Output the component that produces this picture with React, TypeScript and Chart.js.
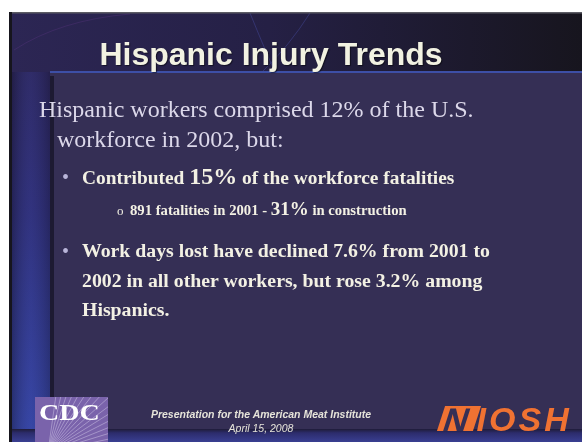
import React, { useEffect, useRef } from "react";
import { Chart, registerables } from "chart.js";

Chart.register(...registerables);

const W = 582;
const H = 442;

const titleText = "Hispanic Injury Trends";
const introLines = ["Hispanic workers comprised 12% of the U.S.", "workforce in 2002, but:"];
const bullet1Parts = ["Contributed ", "15%", " of the workforce fatalities"];
const subBulletParts = ["891 fatalities in 2001 - ", "31%", " in construction"];
const bullet2Lines = [
  "Work days lost have declined 7.6% from 2001 to",
  "2002 in all other workers, but rose 3.2% among",
  "Hispanics.",
];
const footerLines = ["Presentation for the American Meat Institute", "April 15, 2008"];
const logoLeft = "CDC";
const logoRight = ["N", "IOSH"];

const SERIF = "'Liberation Serif', 'Times New Roman', serif";
const SANS = "'Liberation Sans', Arial, sans-serif";

const backgroundPlugin = {
  id: "slideBackground",
  beforeDraw(chart: any) {
    const ctx: CanvasRenderingContext2D = chart.ctx;
    ctx.save();
    ctx.fillStyle = "#ffffff";
    ctx.fillRect(0, 0, W, H);
    // slide base
    ctx.fillStyle = "#352f55";
    ctx.fillRect(9, 12, W - 9, H - 12);
    // header
    const hg = ctx.createLinearGradient(12, 0, W, 0);
    hg.addColorStop(0, "#2c2654");
    hg.addColorStop(0.45, "#252045");
    hg.addColorStop(1, "#17151e");
    ctx.fillStyle = hg;
    ctx.fillRect(12, 13, W - 12, 59);
    // faint arcs in header
    ctx.strokeStyle = "rgba(80,90,190,0.35)";
    ctx.lineWidth = 1;
    ctx.beginPath();
    ctx.moveTo(250, 13);
    ctx.quadraticCurveTo(265, 50, 275, 72);
    ctx.moveTo(310, 13);
    ctx.quadraticCurveTo(290, 45, 262, 72);
    ctx.stroke();
    ctx.strokeStyle = "rgba(110,60,150,0.25)";
    ctx.beginPath();
    ctx.moveTo(14, 50);
    ctx.quadraticCurveTo(60, 20, 130, 14);
    ctx.stroke();
    // left strip
    const lg = ctx.createLinearGradient(0, 72, 0, 430);
    lg.addColorStop(0, "#2a2458");
    lg.addColorStop(0.4, "#2c2c72");
    lg.addColorStop(1, "#3343a0");
    ctx.fillStyle = lg;
    ctx.fillRect(12, 72, 38, 358);
    const lg2 = ctx.createLinearGradient(12, 0, 50, 0);
    lg2.addColorStop(0, "rgba(20,18,40,0.35)");
    lg2.addColorStop(0.5, "rgba(80,90,200,0.15)");
    lg2.addColorStop(1, "rgba(20,18,40,0.25)");
    ctx.fillStyle = lg2;
    ctx.fillRect(12, 72, 38, 358);
    // outer top / left border
    ctx.fillStyle = "#5c5c64";
    ctx.fillRect(9, 12, W - 9, 1.5);
    ctx.fillStyle = "#16151d";
    ctx.fillRect(9, 12, 3, H - 12);
    // blue header line
    ctx.fillStyle = "#3d4fa6";
    ctx.fillRect(50, 71, W - 50, 2);
    // panel border
    ctx.fillStyle = "#1d1a32";
    ctx.fillRect(50, 76, 4, 354);
    // bottom strip
    const bg = ctx.createLinearGradient(0, 429, 0, 442);
    bg.addColorStop(0, "#1f1c38");
    bg.addColorStop(0.3, "#2c2c6c");
    bg.addColorStop(1, "#3a3f92");
    ctx.fillStyle = bg;
    ctx.fillRect(12, 429, W - 12, 13);
    // CDC logo box
    ctx.fillStyle = "#7a63ab";
    ctx.fillRect(35, 397, 73, 45);
    ctx.save();
    ctx.beginPath();
    ctx.rect(35, 397, 73, 45);
    ctx.clip();
    ctx.strokeStyle = "rgba(235,230,250,0.55)";
    ctx.lineWidth = 0.7;
    const ox = 48;
    const oy = 452;
    for (let a = -82; a <= -4; a += 5) {
      const r = (a * Math.PI) / 180;
      ctx.beginPath();
      ctx.moveTo(ox, oy);
      ctx.lineTo(ox + Math.cos(r) * 120, oy + Math.sin(r) * 120);
      ctx.stroke();
    }
    ctx.restore();
    ctx.restore();
  },
};

export default function App() {
  const canvasRef = useRef<HTMLCanvasElement | null>(null);

  useEffect(() => {
    if (!canvasRef.current) return;
    const chart = new Chart(canvasRef.current, {
      type: "bar",
      data: { labels: [], datasets: [] },
      options: {
        animation: false,
        responsive: false,
        devicePixelRatio: 1,
        events: [],
        plugins: { legend: { display: false }, tooltip: { enabled: false }, title: { display: false } },
        scales: { x: { display: false }, y: { display: false } },
      },
      plugins: [backgroundPlugin],
    });
    return () => chart.destroy();
  }, []);

  const abs = (extra: React.CSSProperties): React.CSSProperties => ({
    position: "absolute",
    whiteSpace: "nowrap",
    lineHeight: 1,
    margin: 0,
    ...extra,
  });

  const bodyColor = "#f3f1e4";
  const introColor = "#dcd8ea";
  const dotColor = "#b9b5d9";

  return (
    <div style={{ position: "absolute", left: 0, top: 0, width: W, height: H, overflow: "hidden", background: "#fff" }}>
      <canvas ref={canvasRef} width={W} height={H} style={{ position: "absolute", left: 0, top: 0, width: W, height: H }} />
      {/* title */}
      <div
        style={abs({
          left: 0,
          width: 542,
          textAlign: "center",
          top: 65 - 0.8465 * 32,
          fontFamily: SANS,
          fontWeight: "bold",
          fontSize: 32,
          color: "#f2f2e2",
          textShadow: "1px 1px 1px rgba(0,0,0,0.5)",
        })}
      >
        {titleText}
      </div>
      {/* intro */}
      {introLines.map((t, i) => (
        <div
          key={i}
          style={abs({
            left: i === 0 ? 39 : 57,
            top: 117 - 0.8375 * 24 + i * 30,
            fontFamily: SERIF,
            fontSize: 24,
            color: introColor,
          })}
        >
          {t}
        </div>
      ))}
      {/* bullet 1 */}
      <div style={abs({ left: 62, top: 184 - 0.8375 * 20, fontFamily: SERIF, fontSize: 20, color: dotColor })}>•</div>
      <div style={abs({ left: 82, top: 184 - 0.8375 * 19.4, fontFamily: SERIF, fontSize: 19.4, fontWeight: "bold", color: bodyColor })}>
        {bullet1Parts[0]}
        <span style={{ fontSize: 24, lineHeight: 0 }}>{bullet1Parts[1]}</span>
        {bullet1Parts[2]}
      </div>
      {/* sub bullet */}
      <div style={abs({ left: 117, top: 215 - 0.8375 * 13, fontFamily: SERIF, fontSize: 13, color: bodyColor })}>o</div>
      <div style={abs({ left: 130, top: 215 - 0.8375 * 14.7, fontFamily: SERIF, fontSize: 14.7, fontWeight: "bold", color: bodyColor })}>
        {subBulletParts[0]}
        <span style={{ fontSize: 19, lineHeight: 0 }}>{subBulletParts[1]}</span>
        {subBulletParts[2]}
      </div>
      {/* bullet 2 */}
      <div style={abs({ left: 62, top: 258 - 0.8375 * 20, fontFamily: SERIF, fontSize: 20, color: dotColor })}>•</div>
      {bullet2Lines.map((t, i) => (
        <div
          key={i}
          style={abs({
            left: 82,
            top: 258 - 0.8375 * 19.8 + i * 29.5,
            fontFamily: SERIF,
            fontSize: 19.8,
            fontWeight: "bold",
            color: bodyColor,
          })}
        >
          {t}
        </div>
      ))}
      {/* footer */}
      {footerLines.map((t, i) => (
        <div
          key={i}
          style={abs({
            left: 0,
            width: 522,
            textAlign: "center",
            top: (i === 0 ? 418 : 432) - 0.8465 * 10.5,
            fontFamily: SANS,
            fontStyle: "italic",
            fontWeight: i === 0 ? "bold" : "normal",
            fontSize: 10.5,
            color: "#e6e4da",
          })}
        >
          {t}
        </div>
      ))}
      {/* CDC logo text */}
      <div
        style={abs({
          left: 39,
          top: 420.5 - 0.8375 * 23,
          fontFamily: SERIF,
          fontWeight: "bold",
          fontSize: 23,
          color: "#ffffff",
          transform: "scaleX(1.22)",
          transformOrigin: "left top",
        })}
      >
        {logoLeft}
      </div>
      {/* NIOSH logo */}
      <div
        style={abs({
          left: 441,
          top: 431 - 0.8465 * 34,
          fontFamily: SANS,
          fontWeight: "bold",
          fontStyle: "italic",
          fontSize: 34,
          color: "#f07232",
          letterSpacing: 3,
        })}
      >
        <span
          style={{
            display: "inline-block",
            background: "#f07232",
            color: "#352f55",
            fontStyle: "normal",
            padding: "0 4px",
            transform: "skewX(-18deg)",
            lineHeight: 1,
            height: 25,
            marginRight: 0,
            overflow: "hidden",
            verticalAlign: "baseline",
          }}
        >
          <span style={{ display: "inline-block", transform: "translateY(-3px)" }}>{logoRight[0]}</span>
        </span>
        {logoRight[1]}
      </div>
    </div>
  );
}
